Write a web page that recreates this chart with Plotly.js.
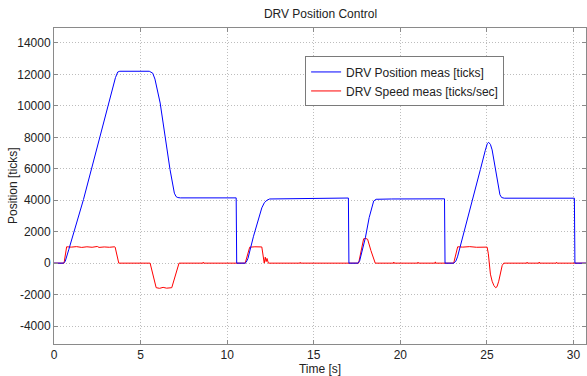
<!DOCTYPE html>
<html>
<head>
<meta charset="utf-8">
<script src="https://cdn.plot.ly/plotly-3.0.1.min.js"></script>
<style>html,body{margin:0;padding:0;background:#fff;}#chart{width:587px;height:376px;}</style>
</head>
<body>
<div id="chart"></div>
<script>
// Time stamps [s] and DRV position measured [ticks]
const posTime = [0, 0.55, 0.65, 0.75, 0.85, 1.70, 2.66, 3.40, 3.55, 3.68, 3.80,
  5.50, 5.70, 5.83, 6.00, 6.13, 6.70, 6.85, 6.95, 7.05, 7.15, 7.30,
  10.52, 10.55, 11.04, 11.10, 11.20, 11.52, 12.00, 12.15, 12.30, 12.45, 13.60, 13.80,
  17.00, 17.03, 17.55, 17.65, 17.75, 17.98, 18.20, 18.35, 18.46, 18.60, 19.50,
  22.55, 22.58, 23.08, 23.20, 23.30, 23.57, 24.62, 24.90, 25.02, 25.10, 25.20, 25.30,
  25.49, 25.65, 25.75, 25.85, 26.00, 30.05, 30.08, 30.72];
const posVal = [0, 0, 120, 450, 850, 4040, 8060, 11150, 11800, 12150, 12200,
  12200, 12080, 11700, 10900, 10180, 5950, 4900, 4450, 4230, 4170, 4150,
  4150, 0, 0, 60, 300, 1710, 3515, 3850, 4000, 4080, 4100, 4130,
  4140, 0, 0, 150, 550, 1610, 2900, 3600, 3950, 4060, 4080,
  4090, 0, 0, 120, 400, 1500, 5950, 7150, 7600, 7680, 7550, 7200,
  5950, 4900, 4350, 4170, 4130, 4130, 0, 0];

// Time stamps [s] and DRV speed measured [ticks/sec]
const spdTime = [0, 0.58, 0.73, 1.00, 1.30, 1.60, 1.90, 2.20, 2.50, 2.60, 2.90, 3.20, 3.50, 3.53, 3.74,
  5.55, 5.90, 6.10, 6.30, 6.50, 6.80, 7.22, 8.60, 8.62, 8.64,
  11.04, 11.30, 11.60, 11.90, 12.00, 12.14, 12.20, 12.25, 12.30, 12.38,
  14.20, 14.22, 14.24, 17.59, 17.75, 17.88, 18.00, 18.11, 18.30, 18.55,
  19.60, 19.62, 19.64, 21.00, 21.02, 21.04, 22.00, 22.02, 22.04,
  23.08, 23.31, 23.60, 24.00, 24.40, 24.80, 25.01, 25.08, 25.14, 25.20, 25.30, 25.40,
  25.50, 25.58, 25.68, 25.78, 25.88, 25.97, 27.30, 27.32, 27.34, 28.00, 28.02, 28.04,
  29.00, 29.02, 29.04, 30.72];
const spdVal = [0, 0, 1040, 1020, 1050, 1000, 1040, 1010, 1060, 1000, 1030, 1010, 1040, 1020, 0,
  0, -1560, -1600, -1540, -1590, -1560, 0, 0, 60, 0,
  0, 1015, 1040, 1020, 1030, 0, 380, 100, 300, 0,
  0, 50, 0, 0, 900, 1550, 1570, 1520, 800, 0,
  0, 70, 0, 0, 60, 0, 0, 80, 0,
  0, 1040, 1020, 1050, 1010, 1040, 1020, 600, 0, -700, -1150, -1420,
  -1560, -1500, -1150, -600, -150, 0, 0, 60, 0, 0, 70, 0,
  0, 50, 0, 0];

const xTickVals = [0, 5, 10, 15, 20, 25, 30];
const yTickVals = [-4000, -2000, 0, 2000, 4000, 6000, 8000, 10000, 12000, 14000];

const font = 'Liberation Sans, Arial, sans-serif';
const axisCommon = {
  showline: true, linecolor: '#8a8a8a', linewidth: 1, mirror: 'ticks',
  ticks: 'inside', ticklen: 4, tickcolor: '#8a8a8a',
  showgrid: true, gridcolor: '#bdbdbd', griddash: '1px,2px', gridwidth: 1,
  zeroline: false, tickfont: {family: font, size: 12, color: '#222'},
  fixedrange: true
};

const traces = [
  {x: spdTime, y: spdVal, type: 'scatter', mode: 'lines', name: 'DRV Speed meas [ticks/sec]',
   line: {color: '#ff0000', width: 1}},
  {x: posTime, y: posVal, type: 'scatter', mode: 'lines', name: 'DRV Position meas [ticks]',
   line: {color: '#0000ff', width: 1}}
];

const layout = {
  width: 587, height: 376,
  margin: {l: 54, r: 1, t: 28, b: 32, pad: 0},
  paper_bgcolor: '#ffffff', plot_bgcolor: '#ffffff',
  font: {family: font, size: 12, color: '#222'},
  title: {text: 'DRV Position Control', font: {family: font, size: 12, color: '#222'},
          x: 0.546, xanchor: 'center', y: 0.962, yanchor: 'middle'},
  xaxis: Object.assign({}, axisCommon, {range: [0, 30.72], tickvals: xTickVals,
          ticktext: xTickVals.map(String),
          title: {text: 'Time [s]', font: {family: font, size: 12, color: '#222'}, standoff: 0}}),
  yaxis: Object.assign({}, axisCommon, {range: [-5140, 14950], tickvals: yTickVals,
          ticktext: yTickVals.map(String)}),
  annotations: [{text: 'Position [ticks]', xref: 'paper', yref: 'paper',
          x: -0.077, y: 0.5, xanchor: 'center', yanchor: 'middle', textangle: -90,
          showarrow: false, font: {family: font, size: 12, color: '#222'}}],
  showlegend: true,
  legend: {x: 0.472, y: 0.91, xanchor: 'left', yanchor: 'top', traceorder: 'reversed',
           bgcolor: '#ffffff', bordercolor: '#7a7a7a', borderwidth: 1,
           font: {family: font, size: 12, color: '#222'}, tracegroupgap: 0}
};

Plotly.newPlot('chart', traces, layout, {displayModeBar: false, staticPlot: true});
</script>
</body>
</html>
